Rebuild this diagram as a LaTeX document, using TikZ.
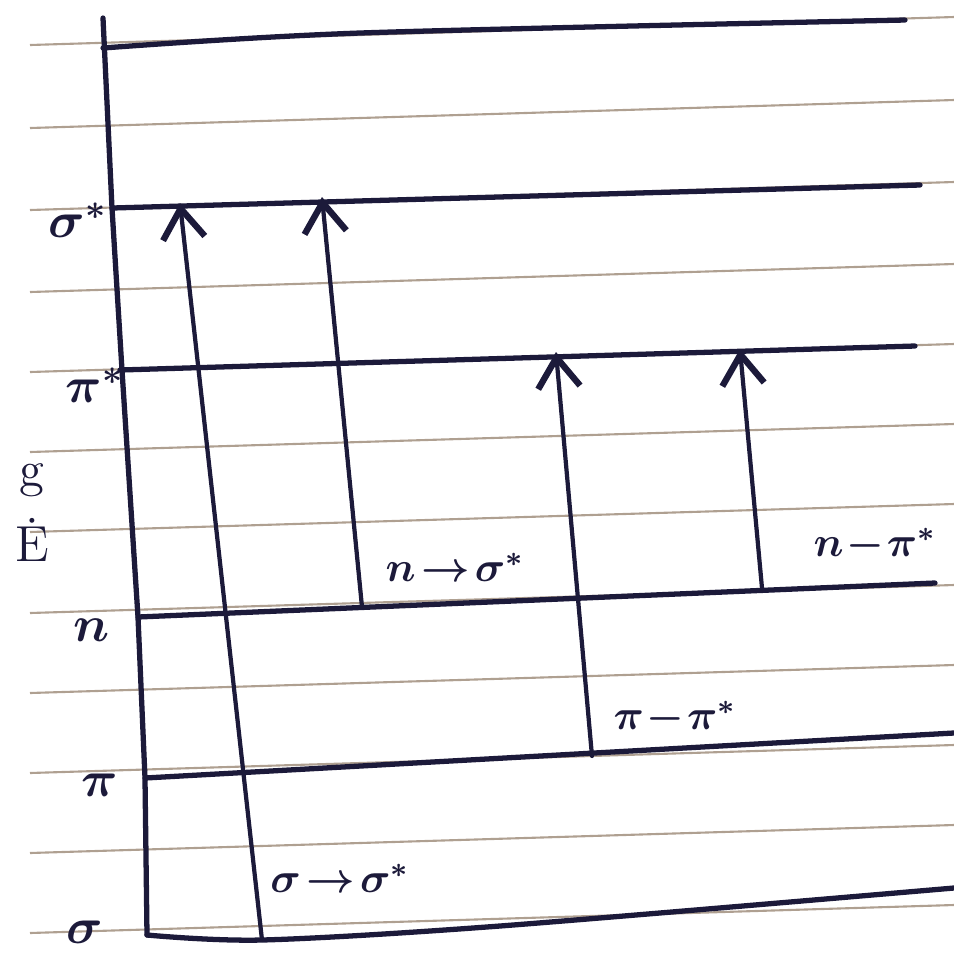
\documentclass[tikz,border=0pt]{standalone}
\usepackage{amsmath}
\usetikzlibrary{arrows.meta}
\definecolor{tinta}{RGB}{28,26,58}
\definecolor{renglon}{RGB}{175,160,145}

\begin{document}
\begin{tikzpicture}[x=0.01cm, y=-0.01cm,
    pluma/.style={line width=1.5pt, color=tinta, line cap=round, line join=round},
    transicion/.style={pluma, line width=1.2pt, -{Straight Barb[length=3mm, width=4.2mm, line width=1.8pt]}},
    etiqueta/.style={text=tinta, font=\Large\boldmath},
    nombre/.style={text=tinta, font=\large\boldmath, inner sep=1pt}]

    \useasboundingbox (0,0) rectangle (954,956);

    % Renglones del cuaderno
    \foreach \y in {45,128,210,292,372,452,532,613,693,773,853,933}
        \draw[renglon, line width=0.6pt] (30,\y) -- (954,\y-28);

    % Eje de energia
    \draw[pluma] (103,18) -- (112,208) -- (122,370) -- (138,617) -- (145,778) -- (147,935);

    % Niveles
    \coordinate (sig)  at (147,935);
    \coordinate (pi)   at (145,778);
    \coordinate (n)    at (138,617);
    \coordinate (pis)  at (120,370);
    \coordinate (sigs) at (112,208);
    \coordinate (tope) at (103,48);

    \draw[pluma] plot[smooth] coordinates {(sig) (262,940) (500,926) (954,888)};
    \draw[pluma] (pi) -- (954,733);
    \draw[pluma] (n) -- (935,583);
    \draw[pluma] (pis) -- (915,346);
    \draw[pluma] (sigs) -- (920,185);
    \draw[pluma] plot[smooth] coordinates {(tope) (360,33) (905,20)};

    % Transiciones
    \coordinate (a1) at (262,940);  \coordinate (b1) at (180,203);
    \coordinate (a2) at (362,607);  \coordinate (b2) at (322,197);
    \coordinate (a3) at (592,756);  \coordinate (b3) at (556,352);
    \coordinate (a4) at (762,588);  \coordinate (b4) at (740,349);

    \draw[transicion] (a1) -- (b1);
    \draw[transicion] (a2) -- (b2);
    \draw[transicion] (a3) -- (b3);
    \draw[transicion] (a4) -- (b4);

    % Etiquetas
    \node[etiqueta] (lsigs) at (78,220) {$\sigma^{*}$};
    \node[etiqueta] (lpis)  at (95,385) {$\pi^{*}$};
    \node[etiqueta] (lg)    at (32,480) {g};
    \node[etiqueta] (le)    at (32,540) {\.E};
    \node[etiqueta] (ln)    at (92,630) {$n$};
    \node[etiqueta] (lpi)   at (100,785) {$\pi$};
    \node[etiqueta] (lsig)  at (85,932) {$\sigma$};

    \node[nombre] (t1) at (340,878) {$\sigma\!\rightarrow\!\sigma^{*}$};
    \node[nombre] (t2) at (455,567) {$n\!\rightarrow\!\sigma^{*}$};
    \node[nombre] (t3) at (675,718) {$\pi\!-\!\pi^{*}$};
    \node[nombre] (t4) at (875,545) {$n\!-\!\pi^{*}$};

\end{tikzpicture}
\end{document}
